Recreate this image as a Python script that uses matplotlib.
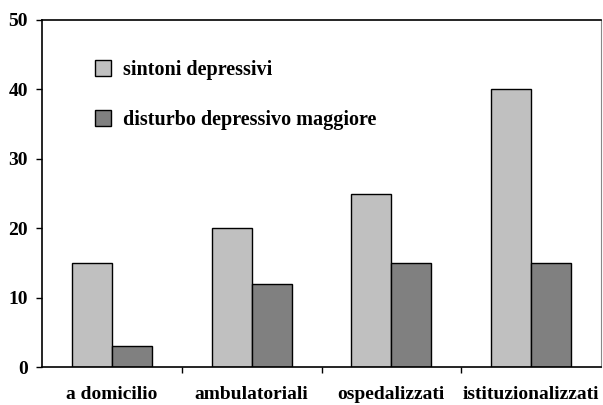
import matplotlib.pyplot as plt
import numpy as np

# Dati
categorie = ["a domicilio", "ambulatoriali", "ospedalizzati", "istituzionalizzati"]
sintomi = [15, 20, 25, 40]
disturbo = [3, 12, 15, 15]
yticks = [0, 10, 20, 30, 40, 50]

plt.rcParams['font.family'] = ['Liberation Serif', 'DejaVu Serif']
plt.rcParams['font.weight'] = 'bold'

fig = plt.figure(figsize=(6.03, 4.05), dpi=100)
ax = fig.add_axes([42/603, 1-367/405, (601-42)/603, (367-20)/405])

x = np.arange(len(categorie))
w = 0.286
ax.bar(x - w/2, sintomi, w, color='#c0c0c0', edgecolor='black', linewidth=1, label='sintoni depressivi')
ax.bar(x + w/2, disturbo, w, color='#808080', edgecolor='black', linewidth=1, label='disturbo depressivo maggiore')

ax.set_xlim(-0.5, 3.5)
ax.set_ylim(0, 50)
ax.set_yticks(yticks)
ax.tick_params(axis='y', labelsize=14, length=4, width=1, pad=6)

# tacche ai confini delle categorie, etichette al centro
ax.set_xticks([0.5, 1.5, 2.5])
ax.set_xticklabels([])
ax.set_xticks(x, minor=True)
ax.set_xticklabels(categorie, minor=True, fontsize=14)
ax.tick_params(axis='x', which='major', length=4, width=1)
ax.tick_params(axis='x', which='minor', length=0, pad=14)

for s in ['left', 'bottom', 'top']:
    ax.spines[s].set_linewidth(1.2)
ax.spines['right'].set_color('#888888')

ax.legend(loc='upper left', bbox_to_anchor=(0.095, 0.885), frameon=False,
          fontsize=14.5, handlelength=0.8, handleheight=0.8, handletextpad=0.6,
          labelspacing=1.5, borderpad=0, borderaxespad=0)

plt.savefig('out.png', dpi=100)
